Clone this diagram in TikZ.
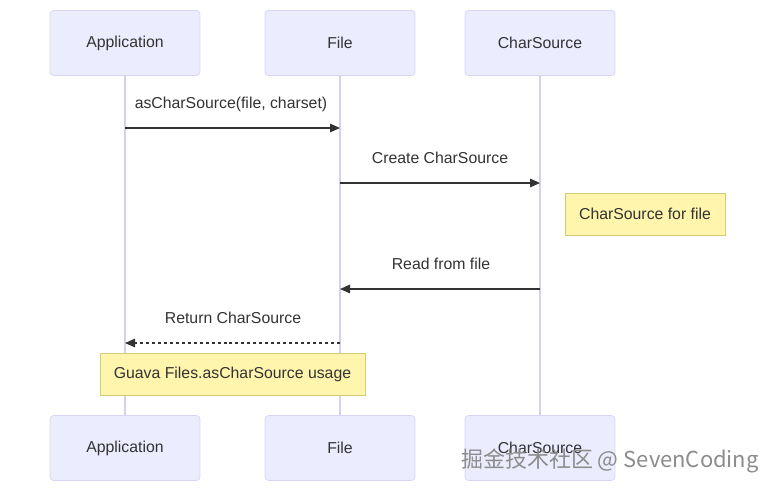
\documentclass[tikz,border=0pt]{standalone}
\usepackage{fontspec}
\setmainfont{Liberation Sans}
\newfontfamily\cjkfont{Noto Sans CJK SC}
\usepackage{xcolor}
\usepackage{tikz}
\usetikzlibrary{arrows.meta,positioning}
\definecolor{actorbg}{HTML}{ECECFF}
\definecolor{actorborder}{HTML}{D9D4F2}
\definecolor{lifeline}{HTML}{D4D0EE}
\definecolor{notebg}{HTML}{FFF5AD}
\definecolor{noteborder}{HTML}{D2CB78}
\definecolor{msgline}{HTML}{333333}

\begin{document}
\begin{tikzpicture}[
  x=0.02cm, y=-0.02cm,
  actor/.style={draw=actorborder, fill=actorbg, rounded corners=2pt, minimum width=3cm, minimum height=1.3cm, font=\fontsize{9}{11}\selectfont, text=msgline},
  note/.style={draw=noteborder, fill=notebg, minimum height=0.84cm, font=\fontsize{9}{11}\selectfont, text=msgline},
  lbl/.style={font=\fontsize{9}{11}\selectfont, text=msgline},
  life/.style={draw=lifeline, line width=0.9pt},
  msg/.style={-{Triangle[length=2mm,width=1.7mm]}, line width=0.8pt, color=msgline},
  reply/.style={msg, dash pattern=on 1.7pt off 1.7pt},
  wmark/.style={font=\cjkfont\fontsize{12.5}{14}\selectfont, text=black!45},
]
  \useasboundingbox (0,0) rectangle (776,491);

  % participants
  \node[actor] (apptop) at (125,43) {Application};
  \node[actor] (filetop) at (340,43) {File};
  \node[actor] (srctop) at (540,43) {CharSource};
  \node[actor] (appbot) at (125,448) {Application};
  \node[actor] (filebot) at (340,448) {File};
  \node[actor] (srcbot) at (540,448) {CharSource};

  \draw[life] (apptop) -- (appbot);
  \draw[life] (filetop) -- (filebot);
  \draw[life] (srctop) -- (srcbot);

  % message ends on the lifelines
  \coordinate (m1a) at (125,128);
  \coordinate (m1b) at (340,128);
  \coordinate (m2a) at (340,183);
  \coordinate (m2b) at (540,183);
  \coordinate (m3a) at (540,289);
  \coordinate (m3b) at (340,289);
  \coordinate (m4a) at (340,343);
  \coordinate (m4b) at (125,343);

  \node[lbl] (l1) at (231,104) {asCharSource(file, charset)};
  \node[lbl] (l2) at (440,158) {Create CharSource};
  \node[lbl] (l3) at (441,264) {Read from file};
  \node[lbl] (l4) at (233,318) {Return CharSource};

  \draw[msg] (m1a) -- (m1b);
  \draw[msg] (m2a) -- (m2b);
  \draw[msg] (m3a) -- (m3b);
  \draw[reply] (m4a) -- (m4b);

  % notes
  \node[note, minimum width=3.2cm] (n1) at (645,214) {CharSource for file};
  \node[note, minimum width=5.3cm] (n2) at (232.5,374) {Guava Files.asCharSource usage};

  \node[wmark] (wm) at (610,461) {掘金技术社区 @ SevenCoding};
\end{tikzpicture}
\end{document}
